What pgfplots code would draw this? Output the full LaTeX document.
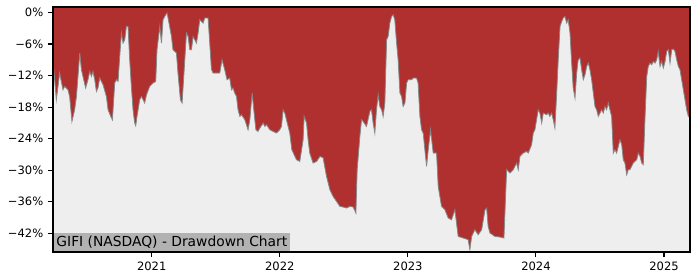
\documentclass[border=0pt]{standalone}
\usepackage{fontspec}
\setmainfont{DejaVu Sans}
\usepackage{pgfplots}
\usepackage{pgfplotstable}
\pgfplotsset{compat=1.18}
\definecolor{ddred}{RGB}{176,48,48}
\definecolor{bggray}{RGB}{238,238,238}
\definecolor{boxgray}{RGB}{178,178,178}
\definecolor{edgegray}{RGB}{135,135,135}

\pgfplotstableread{
year dd
2020.229 -8.99
2020.255 -16.60
2020.281 -11.52
2020.307 -14.70
2020.320 -14.07
2020.346 -14.70
2020.359 -15.97
2020.377 -20.72
2020.398 -18.50
2020.412 -15.97
2020.438 -7.72
2020.451 -10.89
2020.463 -12.17
2020.484 -14.37
2020.502 -12.79
2020.516 -11.22
2020.529 -12.17
2020.541 -11.22
2020.555 -12.79
2020.568 -15.02
2020.580 -14.37
2020.594 -12.47
2020.620 -13.75
2020.646 -15.97
2020.659 -18.50
2020.680 -19.77
2020.693 -20.40
2020.711 -13.42
2020.724 -12.79
2020.737 -13.12
2020.750 -8.37
2020.763 -3.92
2020.776 -5.82
2020.789 -5.19
2020.802 -2.66
2020.815 -2.66
2020.828 -8.99
2020.841 -14.07
2020.854 -18.50
2020.867 -21.03
2020.875 -21.54
2020.885 -19.77
2020.906 -16.60
2020.920 -15.97
2020.945 -17.22
2020.959 -15.65
2020.984 -14.07
2021.010 -13.42
2021.031 -13.12
2021.041 -7.09
2021.063 -2.66
2021.076 -5.82
2021.088 -1.39
2021.109 -0.44
2021.120 -0.11
2021.135 -2.02
2021.154 -4.56
2021.166 -7.09
2021.193 -7.72
2021.205 -11.52
2021.224 -16.60
2021.237 -17.22
2021.250 -12.17
2021.271 -3.92
2021.284 -4.56
2021.297 -7.09
2021.310 -7.09
2021.323 -4.56
2021.336 -5.19
2021.349 -5.82
2021.362 -3.92
2021.375 -1.39
2021.401 -2.02
2021.414 -1.06
2021.440 -1.06
2021.453 -5.82
2021.466 -10.80
2021.479 -11.52
2021.505 -11.52
2021.531 -11.52
2021.549 -8.99
2021.570 -10.89
2021.588 -12.79
2021.609 -12.47
2021.623 -14.70
2021.635 -14.37
2021.648 -15.32
2021.662 -15.97
2021.674 -18.50
2021.688 -19.77
2021.701 -19.45
2021.727 -20.40
2021.740 -21.35
2021.752 -22.30
2021.766 -20.40
2021.784 -15.32
2021.797 -18.50
2021.813 -22.30
2021.830 -22.62
2021.844 -21.98
2021.870 -21.03
2021.883 -21.67
2021.896 -21.35
2021.922 -22.30
2021.948 -22.62
2021.974 -22.93
2022.000 -22.30
2022.013 -21.67
2022.026 -18.50
2022.039 -19.13
2022.052 -20.40
2022.065 -21.67
2022.078 -22.93
2022.094 -26.10
2022.130 -28.00
2022.156 -28.33
2022.182 -24.20
2022.190 -19.77
2022.209 -21.03
2022.221 -24.20
2022.234 -26.73
2022.260 -28.63
2022.287 -28.33
2022.313 -27.38
2022.338 -27.62
2022.365 -31.18
2022.391 -33.71
2022.416 -34.98
2022.443 -35.93
2022.469 -36.88
2022.495 -37.00
2022.521 -37.19
2022.547 -36.88
2022.573 -37.00
2022.594 -38.14
2022.604 -29.90
2022.625 -23.57
2022.638 -20.40
2022.651 -20.72
2022.677 -21.67
2022.703 -18.82
2022.716 -18.50
2022.729 -21.03
2022.742 -22.93
2022.755 -18.50
2022.768 -15.65
2022.781 -17.87
2022.795 -18.50
2022.807 -19.77
2022.820 -17.22
2022.834 -5.19
2022.846 -4.56
2022.859 -2.02
2022.873 -0.76
2022.885 -0.44
2022.898 -1.39
2022.912 -5.82
2022.924 -8.99
2022.938 -15.32
2022.951 -15.97
2022.963 -17.87
2022.977 -17.22
2022.990 -13.42
2023.002 -12.79
2023.029 -12.79
2023.041 -12.47
2023.068 -12.47
2023.080 -13.42
2023.094 -19.77
2023.107 -22.30
2023.120 -23.00
2023.146 -29.28
2023.159 -26.10
2023.177 -22.30
2023.198 -26.73
2023.224 -26.73
2023.237 -33.08
2023.263 -36.88
2023.289 -37.51
2023.315 -39.09
2023.341 -39.41
2023.367 -37.51
2023.393 -42.59
2023.432 -42.89
2023.471 -43.21
2023.484 -45.11
2023.498 -42.59
2023.523 -41.31
2023.549 -42.26
2023.576 -41.31
2023.602 -37.51
2023.615 -37.19
2023.627 -40.68
2023.641 -41.94
2023.680 -42.59
2023.719 -42.70
2023.750 -42.89
2023.771 -29.90
2023.797 -30.53
2023.823 -29.90
2023.849 -28.63
2023.862 -29.90
2023.875 -27.38
2023.901 -26.73
2023.927 -26.43
2023.940 -26.73
2023.966 -25.15
2023.979 -22.93
2023.992 -22.30
2024.005 -20.40
2024.018 -18.50
2024.031 -19.13
2024.045 -21.03
2024.057 -19.13
2024.084 -19.45
2024.096 -19.13
2024.109 -19.77
2024.123 -19.13
2024.135 -20.40
2024.148 -21.98
2024.162 -15.32
2024.174 -8.99
2024.188 -2.66
2024.201 -1.71
2024.213 -1.06
2024.227 -0.76
2024.240 -2.02
2024.252 -1.39
2024.266 -3.92
2024.279 -9.62
2024.291 -14.37
2024.305 -16.27
2024.318 -11.52
2024.330 -8.99
2024.344 -8.67
2024.357 -10.89
2024.370 -12.79
2024.383 -11.84
2024.396 -10.27
2024.409 -9.62
2024.422 -10.89
2024.435 -12.79
2024.448 -15.32
2024.461 -17.87
2024.474 -18.50
2024.487 -19.77
2024.500 -19.13
2024.513 -18.50
2024.526 -19.13
2024.539 -17.87
2024.552 -18.50
2024.565 -17.22
2024.578 -18.50
2024.591 -19.77
2024.604 -26.73
2024.617 -26.10
2024.630 -26.73
2024.643 -25.48
2024.656 -24.20
2024.670 -25.15
2024.682 -28.00
2024.695 -28.63
2024.709 -30.86
2024.721 -29.90
2024.734 -29.90
2024.760 -28.63
2024.787 -28.00
2024.799 -26.73
2024.813 -27.38
2024.826 -28.63
2024.838 -28.95
2024.852 -19.77
2024.865 -12.17
2024.877 -10.27
2024.891 -9.62
2024.904 -9.94
2024.916 -9.32
2024.930 -9.62
2024.943 -8.99
2024.955 -7.41
2024.969 -10.27
2024.982 -9.32
2024.995 -10.57
2025.008 -9.32
2025.021 -7.41
2025.034 -7.09
2025.047 -9.62
2025.060 -7.09
2025.073 -6.96
2025.086 -7.41
2025.099 -8.99
2025.112 -10.27
2025.125 -10.89
2025.138 -12.79
2025.151 -14.70
2025.164 -16.60
2025.177 -18.50
2025.190 -19.77
2025.203 -20.02
}\ddtable

\begin{document}
\begin{tikzpicture}
\useasboundingbox (-38.30pt,-20.24pt) rectangle (467.59pt,182.12pt);
\begin{axis}[
  at={(0,0)}, anchor=south west,
  scale only axis, width=460.36pt, height=177.06pt,
  xmin=2020.229, xmax=2025.203, ymin=-45.55, ymax=1.03,
  axis background/.style={fill=bggray},
  axis line style={line width=0.8pt, black},
  xtick={2021,2022,2023,2024,2025},
  xticklabels={2021,2022,2023,2024,2025},
  ytick={-42,-36,-30,-24,-18,-12,-6,0},
  yticklabels={−42\%,−36\%,−30\%,−24\%,−18\%,−12\%,−6\%,0\%},
  tick align=outside, xtick pos=bottom, ytick pos=left,
  major tick length=3.5pt,
  tick style={line width=0.8pt, black},
  tick label style={font=\fontsize{8.33}{10}\selectfont},
  axis on top,
  clip=true,
]
\addplot[fill=ddred, draw=none] table {\ddtable} |- (axis cs:2020.229,5) -- cycle;
\addplot[edgegray, line width=0.6pt] table {\ddtable};
\node[anchor=south west, fill=boxgray, inner xsep=2.3pt, inner ysep=0pt,
      text height=10.2pt, text depth=3.6pt, font=\fontsize{10}{12}\selectfont]
  at (rel axis cs:0,0) {GIFI (NASDAQ) - Drawdown Chart};
\end{axis}
\end{tikzpicture}
\end{document}
